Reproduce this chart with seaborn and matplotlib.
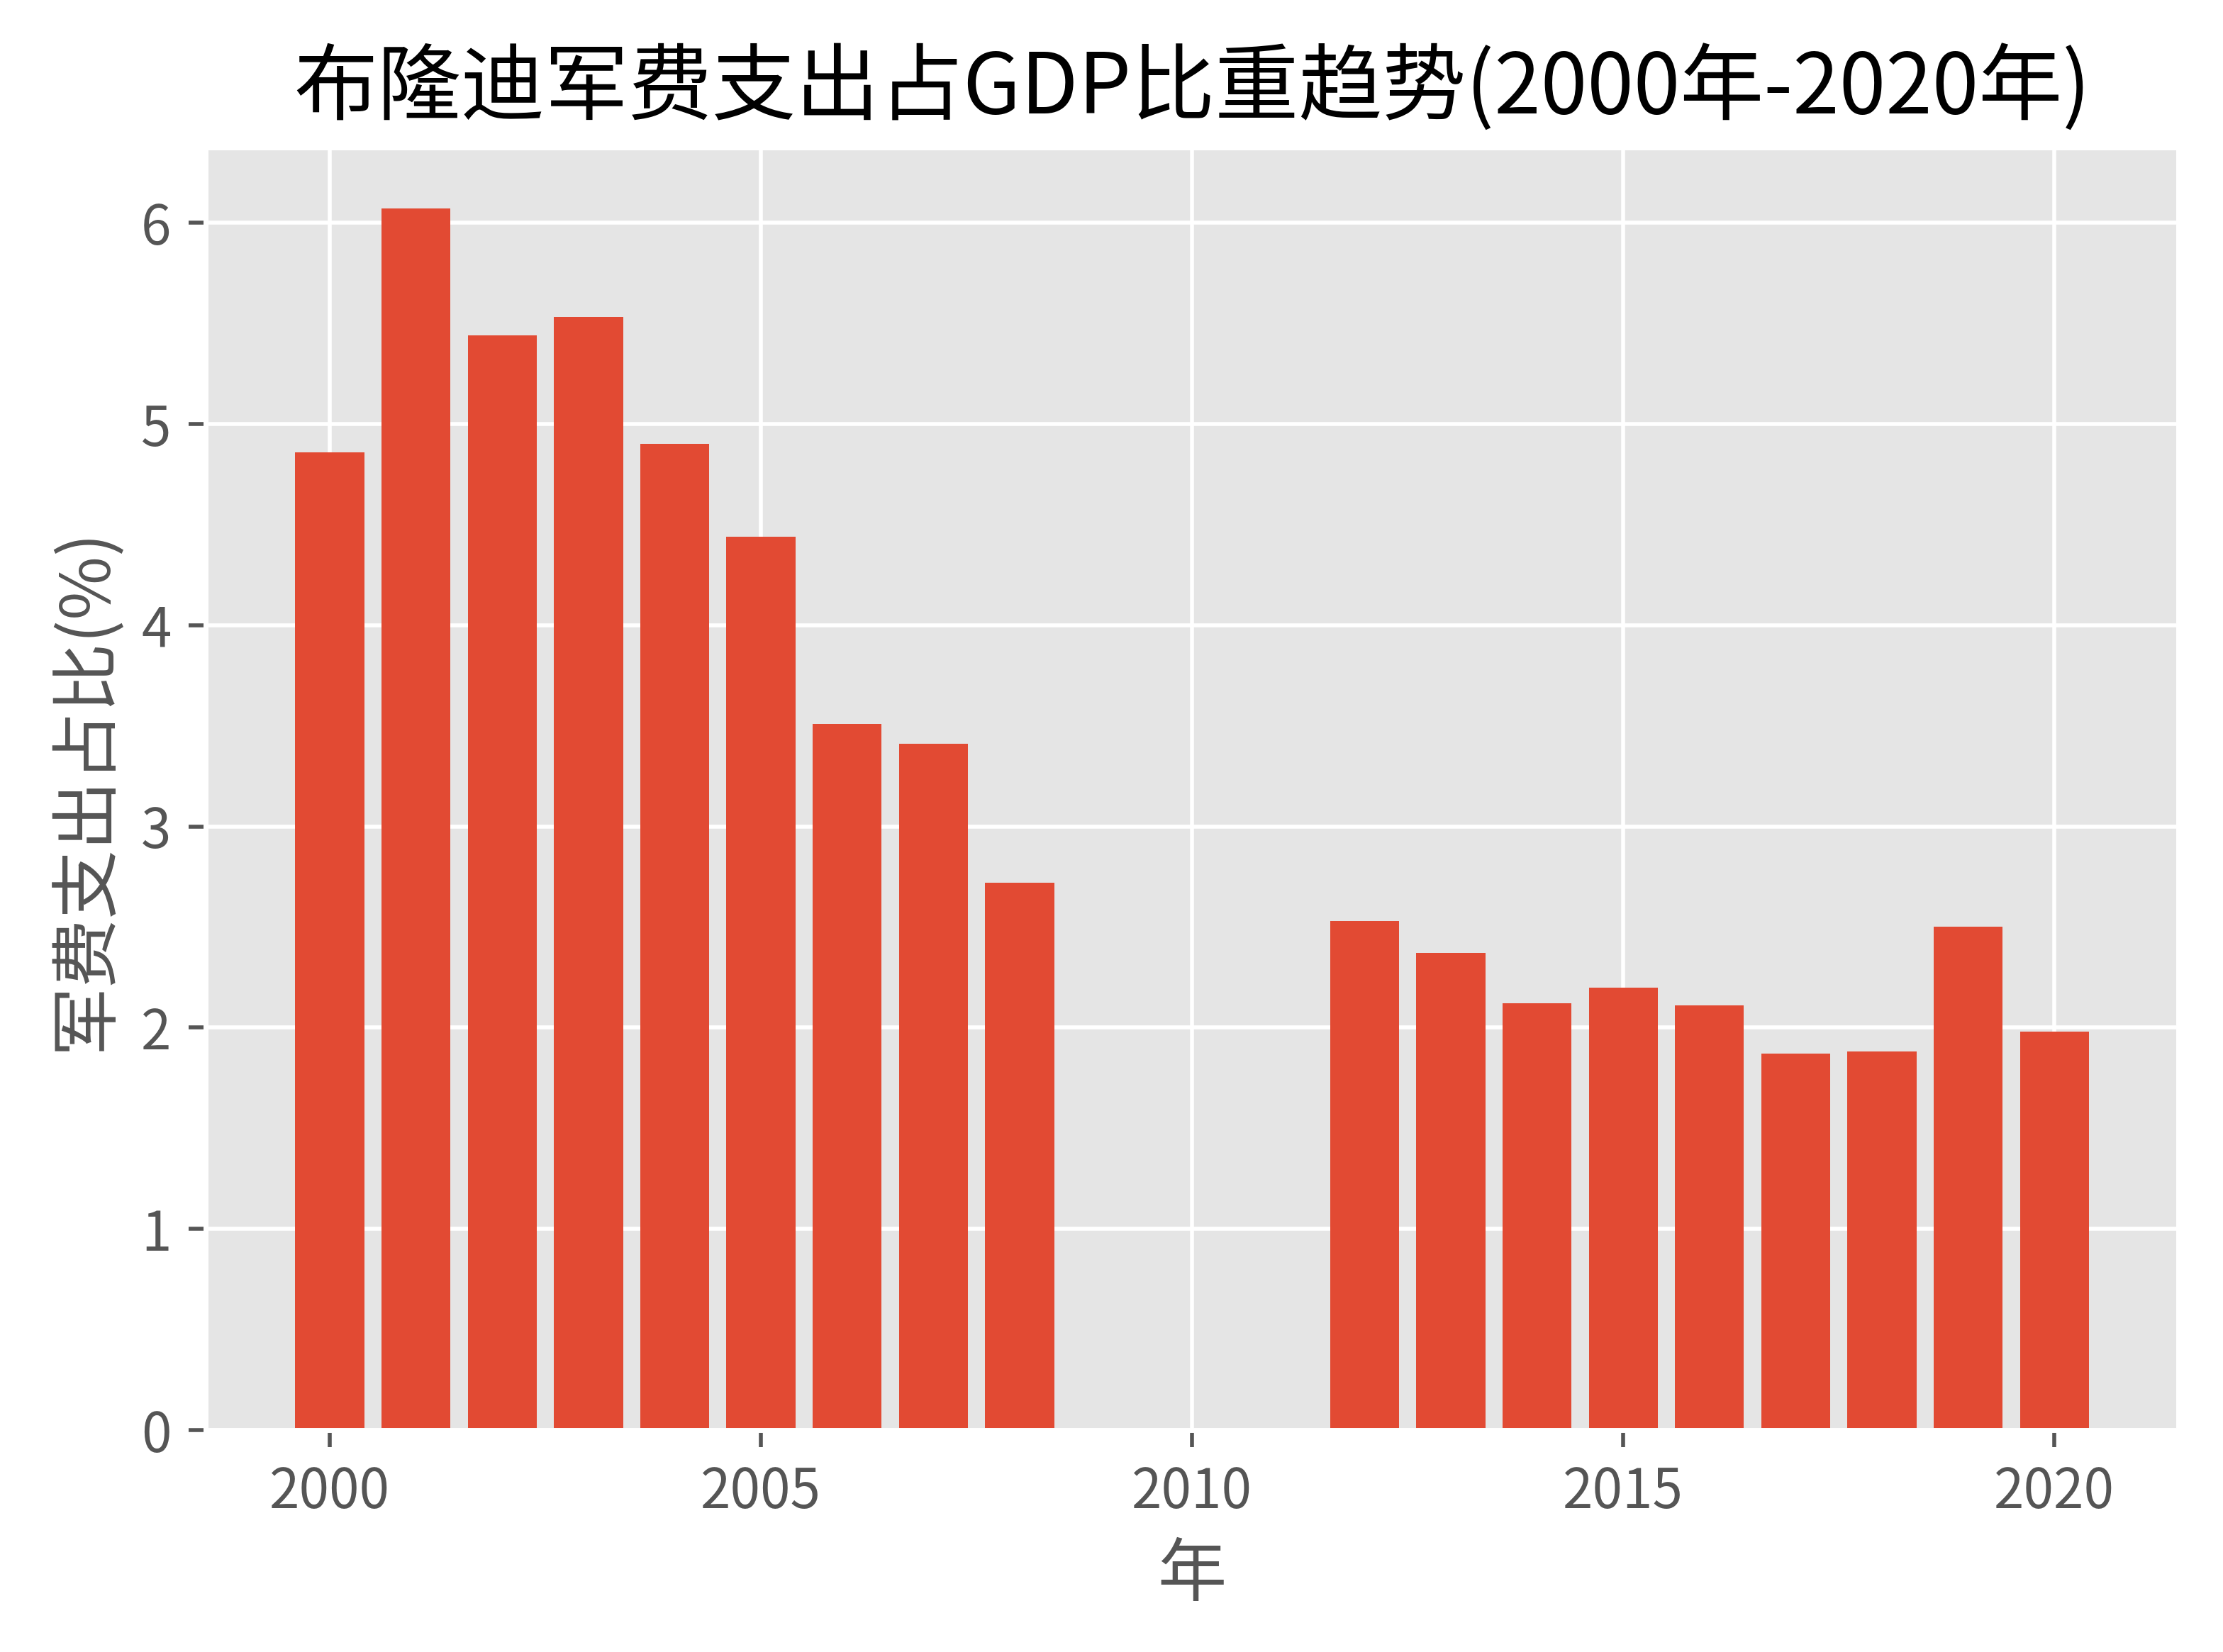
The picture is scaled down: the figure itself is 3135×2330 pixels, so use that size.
import numpy as np
import pandas as pd
import matplotlib
matplotlib.use("Agg")
import matplotlib.pyplot as plt
import seaborn as sns

years = list(range(2000, 2021))
values = [4.86, 6.07, 5.44, 5.53, 4.90, 4.44, 3.51, 3.41, 2.72,
          None, None, None,
          2.53, 2.37, 2.12, 2.20, 2.11, 1.87, 1.88, 2.50, 1.98]
title = "布隆迪军费支出占GDP比重趋势(2000年-2020年)"
xlabel = "年"
ylabel = "军费支出占比(%)"

plt.style.use("ggplot")
plt.rcParams["font.family"] = ["Noto Sans CJK SC", "DejaVu Sans"]
plt.rcParams["axes.unicode_minus"] = False

df = pd.DataFrame({"year": years, "value": values}).dropna()

fig = plt.figure(figsize=(6.27, 4.66), dpi=500)
ax = fig.add_axes([0.0925, 0.1343, 0.98 - 0.0925, 0.9107 - 0.1343])
sns.barplot(data=df, x="year", y="value", native_scale=True, color="#E24A33",
            saturation=1, linewidth=0, width=0.8, ax=ax)
ax.grid(True, color="white")
ax.set_axisbelow(True)
ax.set_xticks([2000, 2005, 2010, 2015, 2020])
ax.set_xlim(1998.56, 2021.44)
ax.set_ylim(0, 6.07 * 1.05)
ax.set_title(title, fontsize=17, color="black", fontweight="medium", pad=7)
ax.set_xlabel(xlabel, fontsize=14, color="#555555")
ax.set_ylabel(ylabel, fontsize=14, color="#555555")
ax.tick_params(labelsize=11, colors="#555555")
fig.savefig("out.png", dpi=500)
